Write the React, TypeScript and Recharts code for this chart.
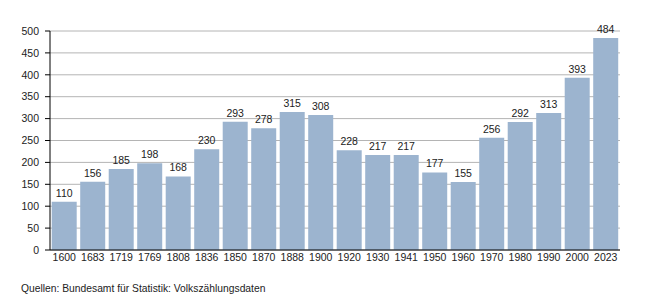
import React from "react";
import { BarChart, Bar, XAxis, YAxis, CartesianGrid, LabelList } from "recharts";

const years = ["1600", "1683", "1719", "1769", "1808", "1836", "1850", "1870", "1888", "1900", "1920", "1930", "1941", "1950", "1960", "1970", "1980", "1990", "2000", "2023"];
const population = [110, 156, 185, 198, 168, 230, 293, 278, 315, 308, 228, 217, 217, 177, 155, 256, 292, 313, 393, 484];
const yTicks = [0, 50, 100, 150, 200, 250, 300, 350, 400, 450, 500];
const sourceText = "Quellen: Bundesamt für Statistik: Volkszählungsdaten";

const data = years.map((y, i) => ({ year: y, value: population[i] }));

const FONT = "'Liberation Sans', Arial, sans-serif";

export default function App() {
  return (
    <div style={{ position: "absolute", left: 0, top: 0, width: 650, height: 300, background: "#fff", fontFamily: FONT }}>
      <BarChart
        width={650}
        height={300}
        data={data}
        margin={{ top: 31, right: 30, bottom: 30, left: 0 }}
        barCategoryGap="6%"
      >
        <CartesianGrid horizontal vertical={false} stroke="#b4b4b4" strokeWidth={1} />
        <XAxis
          dataKey="year"
          height={20}
          tickLine={false}
          tickSize={0}
          tickMargin={4}
          axisLine={{ stroke: "#000", strokeWidth: 1 }}
          tick={{ fill: "#222", fontSize: 10.5, fontFamily: FONT }}
          interval={0}
        />
        <YAxis
          width={50}
          domain={[0, 500]}
          ticks={yTicks}
          interval={0}
          tickSize={5}
          tickMargin={6}
          axisLine={{ stroke: "#000", strokeWidth: 1 }}
          tickLine={{ stroke: "#000", strokeWidth: 1 }}
          tick={{ fill: "#222", fontSize: 10.5, fontFamily: FONT }}
        />
        <Bar dataKey="value" fill="#9cb4cf" isAnimationActive={false}>
          <LabelList dataKey="value" position="top" offset={5} fill="#222" fontSize={10.5} fontFamily={FONT} />
        </Bar>
      </BarChart>
      <div style={{ position: "absolute", left: 21, top: 283, fontSize: 10.3, color: "#222", fontFamily: FONT, whiteSpace: "nowrap" }}>
        {sourceText}
      </div>
    </div>
  );
}
